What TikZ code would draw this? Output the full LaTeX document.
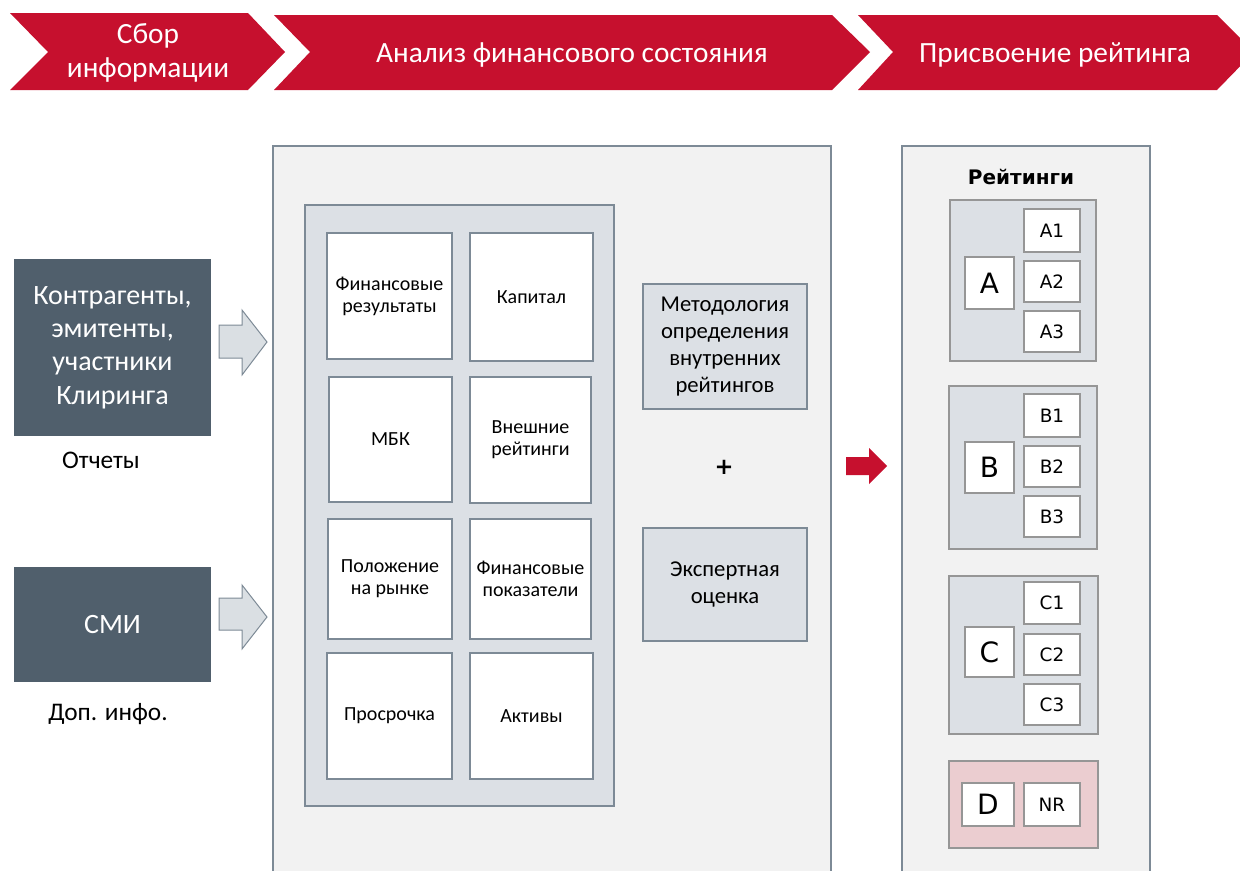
\documentclass[tikz,border=0pt]{standalone}
\usepackage{fontspec}
\setmainfont{Carlito}
\newfontfamily\tah{DejaVu Sans}
\usetikzlibrary{fit}
\definecolor{cred}{RGB}{198,16,46}
\definecolor{slate}{RGB}{80,95,108}
\definecolor{panel}{RGB}{242,242,242}
\definecolor{pborder}{RGB}{125,138,150}
\definecolor{innerf}{RGB}{220,224,229}
\definecolor{pinkf}{RGB}{235,205,208}
\definecolor{boxb}{RGB}{150,150,150}
\definecolor{arrf}{RGB}{218,223,227}
\newcommand{\bx}[7]{\node[#2, inner sep=0pt, outer sep=0pt,
  minimum width={(#5-#3)*0.75pt}, minimum height={(#6-#4)*0.75pt}]
  (#1) at ({(#3+#5)/2},{(#4+#6)/2}) {#7};}
\tikzset{
  chev/.style={text=white, align=center, font=\fontsize{22}{25}\selectfont},
  dark/.style={fill=slate, draw=none, text=white, align=center, font=\fontsize{21}{25}\selectfont},
  lbl/.style={font=\fontsize{19}{23}\selectfont},
  panelst/.style={fill=panel, draw=pborder, line width=0.9pt},
  innerst/.style={fill=innerf, draw=pborder, line width=0.9pt},
  wbox/.style={fill=white, draw=pborder, line width=0.9pt, align=center, font=\fontsize{15}{16.5}\selectfont},
  mbox/.style={fill=innerf, draw=pborder, line width=0.9pt, align=center, font=\fontsize{17}{20.25}\selectfont},
  grp/.style={fill=innerf, draw=boxb, line width=0.9pt},
  pgrp/.style={fill=pinkf, draw=boxb, line width=0.9pt},
  bigl/.style={fill=white, draw=boxb, line width=0.9pt, font=\tah\fontsize{21}{24}\selectfont},
  smll/.style={fill=white, draw=boxb, line width=0.9pt, font=\tah\fontsize{13.8}{16}\selectfont},
  garrow/.style={fill=arrf, draw=pborder, line width=0.75pt},
}
\begin{document}
\begin{tikzpicture}[x=0.75pt,y=-0.75pt]
\useasboundingbox (0,0) rectangle (1240,871);
% chevrons
\fill[cred] (10,13) -- (248,13) -- (285,52) -- (248,90) -- (10,90) -- (48,52) -- cycle;
\fill[cred] (274,15) -- (832,15) -- (870,52) -- (832,90) -- (274,90) -- (310,52) -- cycle;
\fill[cred] (858,15) -- (1217,15) -- (1254,52) -- (1217,90) -- (858,90) -- (893,52) -- cycle;
\node[chev] (t1) at (148,53) {Сбор\\информации};
\node[chev] (t2) at (572,55) {Анализ финансового состояния};
\node[chev] (t3) at (1055,55) {Присвоение рейтинга};
% left sources
\bx{src}{dark}{14}{259}{211}{436}{Контрагенты,\\эмитенты,\\участники\\Клиринга}
\bx{smi}{dark}{14}{567}{211}{682}{СМИ}
\node[lbl] (otch) at (101,460) {Отчеты};
\node[lbl] (dop) at (108,714) {Доп. инфо.};
% panels
\bx{p1}{panelst}{273}{146}{831}{885}{}
\bx{p2}{panelst}{902}{146}{1150}{885}{}
% gray arrows
\draw[garrow] (219,325) -- (242,325) -- (242,310) -- (267,342) -- (242,375) -- (242,358) -- (219,358) -- cycle;
\draw[garrow] (219,598) -- (242,598) -- (242,585) -- (267,617) -- (242,649) -- (242,630) -- (219,630) -- cycle;
% inner factors
\bx{inner}{innerst}{305}{205}{614}{806}{}
\bx{f1}{wbox}{327}{233}{452}{359}{Финансовые\\результаты}
\bx{f2}{wbox}{470}{233}{593}{361}{Капитал}
\bx{f3}{wbox}{329}{377}{452}{502}{МБК}
\bx{f4}{wbox}{470}{377}{591}{503}{Внешние\\рейтинги}
\bx{f5}{wbox}{328}{519}{452}{639}{Положение\\на рынке}
\bx{f6}{wbox}{470}{519}{591}{639}{Финансовые\\показатели}
\bx{f7}{wbox}{327}{653}{452}{779}{Просрочка}
\bx{f8}{wbox}{470}{653}{593}{779}{Активы}
% methodology
\bx{meth}{mbox}{643}{284}{807}{409}{Методология\\определения\\внутренних\\рейтингов}
\bx{exp}{mbox}{643}{528}{807}{641}{Экспертная\\оценка}
\node[font=\tah\bfseries\fontsize{17}{22}\selectfont] (plus) at (724,467) {+};
% red arrow
\fill[cred] (846,457) -- (869,457) -- (869,448) -- (887,466) -- (869,484) -- (869,475) -- (846,475) -- cycle;
% ratings
\node[font=\tah\bfseries\fontsize{15}{18}\selectfont] (rt) at (1021,177) {Рейтинги};
\bx{ga}{grp}{950}{200}{1096}{361}{}
\bx{a}{bigl}{965}{257}{1014}{309}{A}
\bx{a1}{smll}{1024}{209}{1080}{252}{A1}
\bx{a2}{smll}{1024}{261}{1080}{302}{A2}
\bx{a3}{smll}{1024}{311}{1080}{352}{A3}
\bx{gb}{grp}{949}{386}{1097}{549}{}
\bx{b}{bigl}{965}{442}{1014}{493}{B}
\bx{b1}{smll}{1024}{394}{1080}{437}{B1}
\bx{b2}{smll}{1024}{446}{1080}{487}{B2}
\bx{b3}{smll}{1024}{496}{1080}{537}{B3}
\bx{gc}{grp}{949}{576}{1098}{734}{}
\bx{c}{bigl}{965}{627}{1014}{677}{C}
\bx{c1}{smll}{1024}{582}{1080}{624}{C1}
\bx{c2}{smll}{1024}{634}{1080}{675}{C2}
\bx{c3}{smll}{1024}{684}{1080}{725}{C3}
\bx{gd}{pgrp}{949}{761}{1098}{848}{}
\bx{d}{bigl}{962}{783}{1014}{826}{D}
\bx{nr}{smll}{1024}{783}{1080}{826}{NR}
\end{tikzpicture}
\end{document}
